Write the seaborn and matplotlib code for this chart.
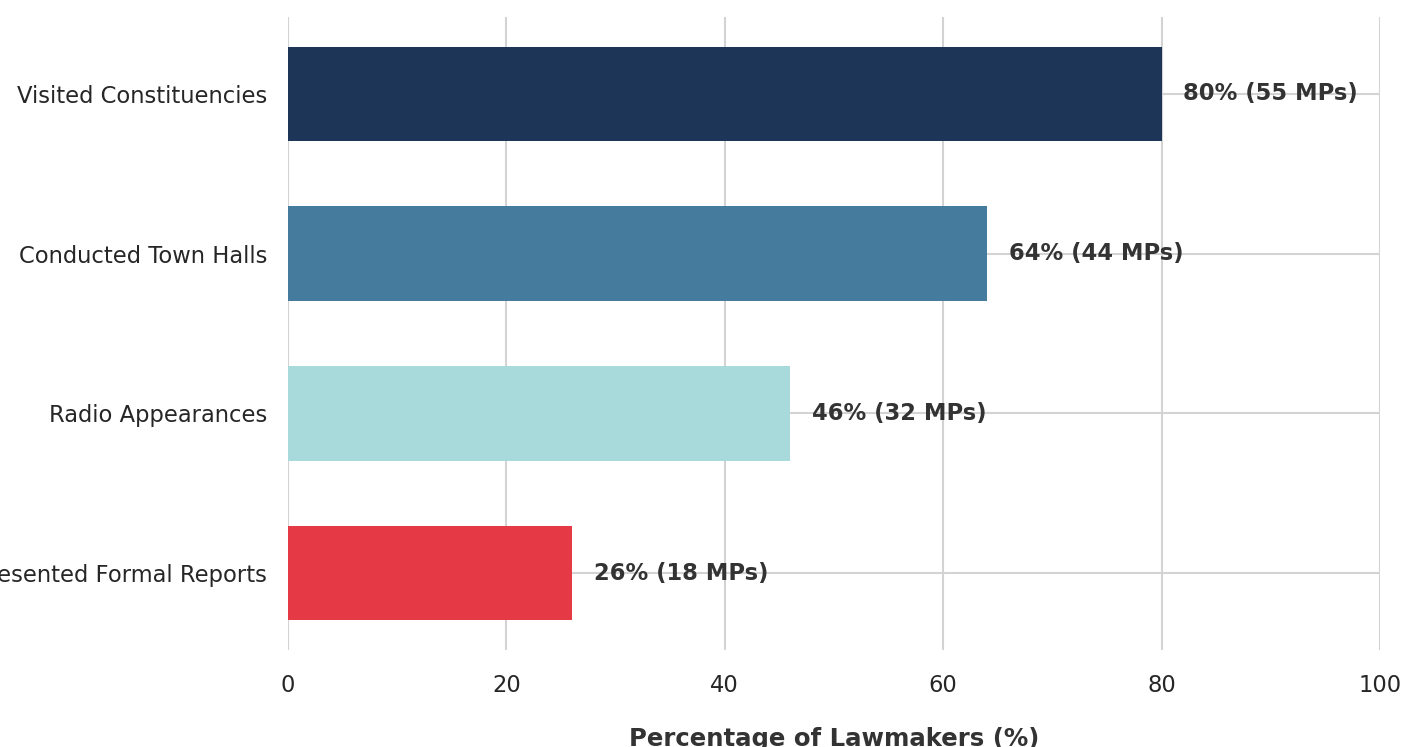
import matplotlib
matplotlib.use("Agg")
import matplotlib.pyplot as plt
import seaborn as sns
import pandas as pd

categories = ["Visited Constituencies", "Conducted Town Halls", "Radio Appearances", "Presented Formal Reports"]
percentages = [80, 64, 46, 26]
mp_counts = [55, 44, 32, 18]
colors = ["#1d3557", "#457b9d", "#a8dadc", "#e63946"]

sns.set_theme(style="whitegrid")
plt.rcParams['font.family'] = ['DejaVu Sans']

df = pd.DataFrame({"category": categories, "pct": percentages})

fig = plt.figure(figsize=(14.05, 7.47), dpi=100)
ax = fig.add_axes([288/1405, 1 - 650/747, (1380-288)/1405, (650-17)/747])

sns.barplot(data=df, y="category", x="pct", hue="category", palette=colors,
            order=categories, legend=False, width=0.59, ax=ax, edgecolor="none",
            saturation=1)

for i, (p, n) in enumerate(zip(percentages, mp_counts)):
    ax.text(p + 2, i, f"{p}% ({n} MPs)", va="center", ha="left",
            fontsize=16.3, fontweight="bold", color="#333333")

ax.set_xlim(0, 100)
ax.set_ylim(3.48, -0.48)
ax.set_ylabel("")
ax.set_xlabel("Percentage of Lawmakers (%)", fontsize=17.6, fontweight="bold",
              color="#333333", labelpad=22)
ax.tick_params(axis="y", labelsize=16.3, pad=9, colors="#262626")
ax.tick_params(axis="x", labelsize=16.3, pad=11, colors="#262626")
for s in ax.spines.values():
    s.set_visible(False)
ax.grid(True, color="#d3d3d3", linewidth=1.5)
ax.set_axisbelow(True)

fig.savefig("out.png", dpi=100)
